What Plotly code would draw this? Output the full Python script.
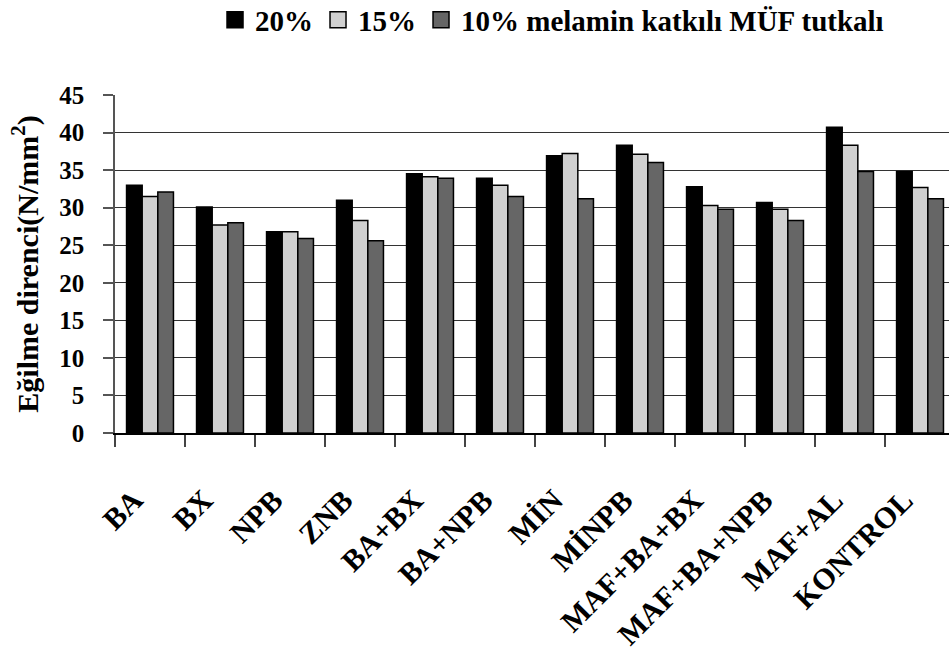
import plotly.graph_objects as go

categories = ["BA", "BX", "NPB", "ZNB", "BA+BX", "BA+NPB", "MİN", "MİNPB",
              "MAF+BA+BX", "MAF+BA+NPB", "MAF+AL", "KONTROL"]
series_names = ["20%", "15%", "10% melamin katkılı MÜF tutkalı"]
vals_20 = [33.0, 30.1, 26.8, 31.0, 34.5, 33.9, 36.9, 38.3, 32.8, 30.7, 40.7, 34.8]
vals_15 = [31.5, 27.7, 26.8, 28.3, 34.1, 33.0, 37.2, 37.1, 30.3, 29.8, 38.3, 32.7]
vals_10 = [32.1, 28.0, 25.9, 25.6, 33.9, 31.5, 31.2, 36.0, 29.8, 28.3, 34.8, 31.2]
y_ticks = [0, 5, 10, 15, 20, 25, 30, 35, 40, 45]
y_title = "Eğilme direnci(N/mm<sup>2</sup>)"

colors = ["#000000", "#d0d0d0", "#666666"]
FONT = "Liberation Serif"

fig = go.Figure()
for name, vals, col in zip(series_names, [vals_20, vals_15, vals_10], colors):
    fig.add_trace(go.Bar(
        x=categories, y=vals, name=name, showlegend=False,
        marker=dict(color=col, line=dict(color="#000000", width=1.5)),
    ))
# legend entries with larger square swatches
for name, col in zip(series_names, colors):
    fig.add_trace(go.Scatter(
        x=[None], y=[None], mode="markers", name="<b>" + name + "</b>",
        marker=dict(symbol="square", size=16, color=col,
                    line=dict(color="#000000", width=1.5)),
    ))

W, H = 949, 658
L, R, T, B = 115, 0, 95, 225
fig.update_layout(
    width=W, height=H,
    margin=dict(l=L, r=R, t=T, b=B, autoexpand=False),
    paper_bgcolor="white", plot_bgcolor="white",
    barmode="group", bargap=0.33, bargroupgap=0.0,
    font=dict(family=FONT, color="black", size=22),
    legend=dict(
        orientation="h", x=0.524, xanchor="center", y=1.222, yanchor="middle",
        font=dict(family=FONT, size=29, color="black"),
        itemwidth=30, traceorder="normal", bgcolor="rgba(0,0,0,0)",
        itemsizing="trace",
    ),
    xaxis=dict(
        type="category", range=[-0.5, 11.414],
        showline=True, linecolor="black", linewidth=1.5,
        ticks="outside", ticklen=12, tickcolor="#444", tickwidth=1.5,
        tickson="boundaries", tickangle=-45,
        tickfont=dict(family=FONT, size=30, color="black"),
        ticklabelstandoff=20,
        showgrid=False, zeroline=False,
    ),
    yaxis=dict(
        range=[0, 45], tickvals=y_ticks,
        ticktext=["<b>%d</b>" % v for v in y_ticks],
        showline=True, linecolor="#555", linewidth=1.5,
        ticks="outside", ticklen=10, tickcolor="#555", tickwidth=1.5,
        tickfont=dict(family=FONT, size=25, color="black"),
        ticklabelstandoff=14,
        showgrid=True, gridcolor="#333", gridwidth=1,
        zeroline=False,
        title=dict(text="<b>" + y_title + "</b>", font=dict(family=FONT, size=30, color="black"),
                   standoff=12),
    ),
)
fig.update_xaxes(ticktext=["<b>%s</b>\u00a0\u00a0\u00a0" % c for c in categories],
                 tickvals=categories)

fig.write_html("out.html")
